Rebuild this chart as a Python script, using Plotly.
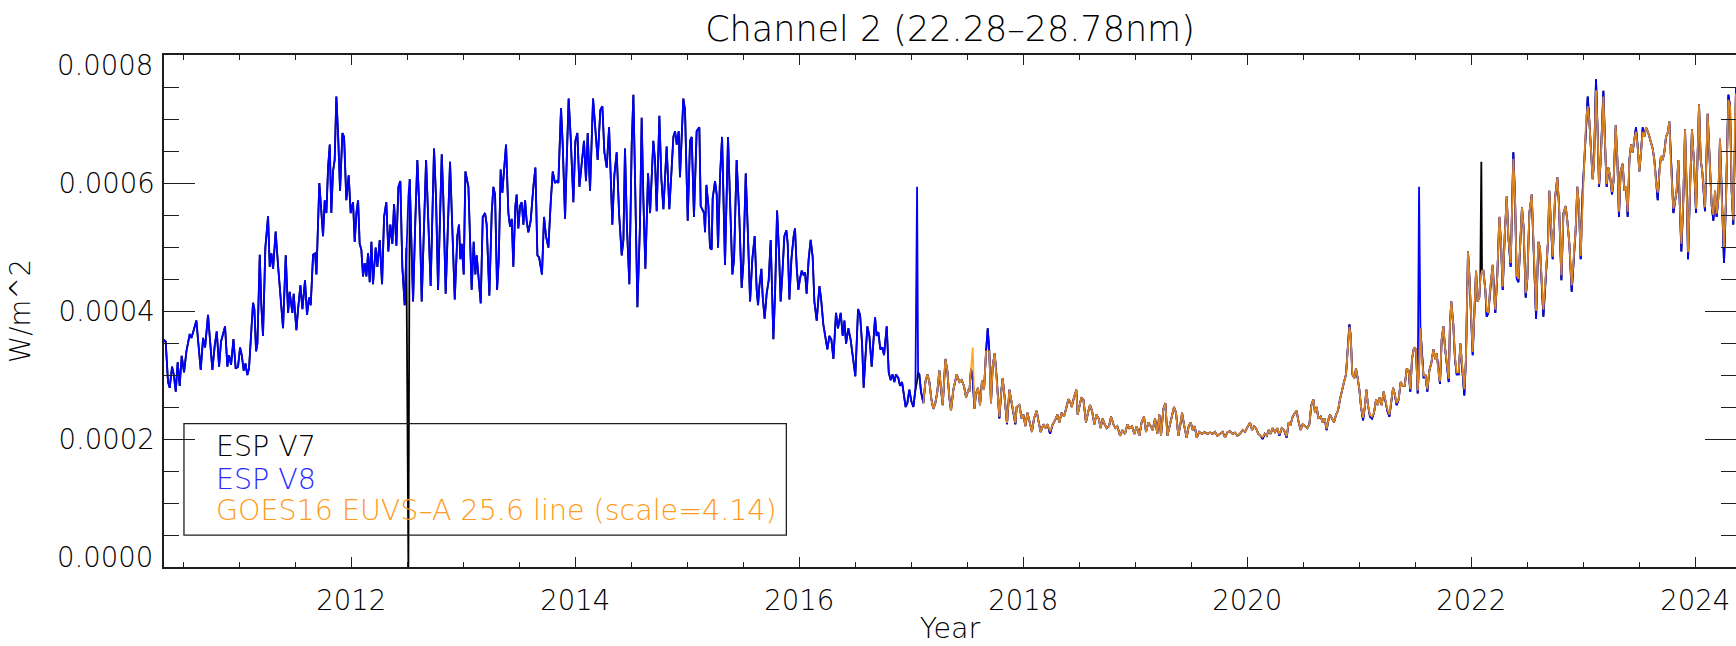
import plotly.graph_objects as go

# Irradiance values below are stored in units of 1e-4 W/m^2
UNIT = 1e-4

# Decimal-year sample times shared by the ESP series (GOES starts part-way through)
year = [
    2010.327, 2010.342, 2010.363, 2010.378, 2010.399, 2010.414, 2010.432, 2010.449, 2010.467, 2010.485,
    2010.506, 2010.527, 2010.557, 2010.572, 2010.592, 2010.616, 2010.637, 2010.655, 2010.676, 2010.694,
    2010.720, 2010.741, 2010.759, 2010.780, 2010.798, 2010.819, 2010.836, 2010.872, 2010.893, 2010.908,
    2010.926, 2010.947, 2010.967, 2010.988, 2011.006, 2011.021, 2011.039, 2011.054, 2011.071, 2011.086,
    2011.122, 2011.134, 2011.149, 2011.161, 2011.182, 2011.196, 2011.211, 2011.232, 2011.256, 2011.271,
    2011.286, 2011.301, 2011.324, 2011.345, 2011.366, 2011.390, 2011.414, 2011.435, 2011.449, 2011.473,
    2011.485, 2011.509, 2011.524, 2011.545, 2011.563, 2011.586, 2011.604, 2011.622, 2011.637, 2011.658,
    2011.676, 2011.688, 2011.714, 2011.729, 2011.747, 2011.762, 2011.777, 2011.792, 2011.807, 2011.821,
    2011.836, 2011.851, 2011.866, 2011.881, 2011.899, 2011.920, 2011.935, 2011.955, 2011.976, 2011.994,
    2012.015, 2012.030, 2012.045, 2012.060, 2012.074, 2012.089, 2012.104, 2012.119, 2012.134, 2012.149,
    2012.164, 2012.179, 2012.193, 2012.217, 2012.232, 2012.253, 2012.274, 2012.292, 2012.312, 2012.330,
    2012.348, 2012.366, 2012.381, 2012.402, 2012.420, 2012.437, 2012.455, 2012.476, 2012.491, 2012.509,
    2012.521, 2012.536, 2012.551, 2012.571, 2012.589, 2012.610,
    2012.628, 2012.667, 2012.688, 2012.708, 2012.738, 2012.756, 2012.774, 2012.807, 2012.821, 2012.842,
    2012.881, 2012.899, 2012.923, 2012.946, 2012.961, 2012.973, 2012.985, 2013.003, 2013.018, 2013.045,
    2013.060, 2013.074, 2013.092, 2013.107, 2013.119, 2013.137, 2013.155, 2013.173, 2013.194, 2013.208,
    2013.232, 2013.253, 2013.268, 2013.283, 2013.301, 2013.316, 2013.333, 2013.348, 2013.363, 2013.381,
    2013.402, 2013.417, 2013.432, 2013.446, 2013.464, 2013.476, 2013.491, 2013.506, 2013.521, 2013.536,
    2013.551, 2013.565, 2013.580, 2013.601, 2013.625, 2013.643, 2013.661, 2013.676, 2013.702, 2013.720,
    2013.738, 2013.759, 2013.780, 2013.798, 2013.818, 2013.833, 2013.848, 2013.872, 2013.887, 2013.908,
    2013.923, 2013.940, 2013.958, 2013.982, 2014.000, 2014.018, 2014.036, 2014.057, 2014.077, 2014.095,
    2014.110, 2014.131, 2014.158, 2014.176, 2014.199, 2014.223, 2014.241, 2014.259, 2014.280, 2014.301,
    2014.330, 2014.348, 2014.369, 2014.390, 2014.414, 2014.429, 2014.443, 2014.461, 2014.482, 2014.503,
    2014.518, 2014.533, 2014.554, 2014.577, 2014.592, 2014.607, 2014.625, 2014.649, 2014.667, 2014.696,
    2014.711, 2014.726, 2014.750, 2014.768, 2014.786, 2014.815, 2014.839, 2014.860, 2014.875, 2014.890,
    2014.905, 2014.923, 2014.934, 2014.964, 2014.979, 2015.003, 2015.024, 2015.039, 2015.059, 2015.083,
    2015.107,
    2015.119, 2015.137, 2015.149, 2015.158, 2015.170, 2015.188, 2015.202, 2015.217, 2015.226, 2015.247,
    2015.262, 2015.274, 2015.292, 2015.310, 2015.321, 2015.336, 2015.363, 2015.381, 2015.402, 2015.417,
    2015.440, 2015.464, 2015.485, 2015.500, 2015.521, 2015.539, 2015.560, 2015.580, 2015.601, 2015.619,
    2015.631, 2015.643, 2015.661, 2015.673, 2015.690, 2015.708, 2015.726, 2015.744, 2015.768, 2015.783,
    2015.801, 2015.818, 2015.833, 2015.848, 2015.866, 2015.884, 2015.896, 2015.911, 2015.929, 2015.949,
    2015.961, 2015.976, 2015.991, 2016.006, 2016.021, 2016.036, 2016.051, 2016.065, 2016.083, 2016.101,
    2016.119, 2016.134, 2016.155, 2016.179, 2016.193, 2016.214, 2016.232, 2016.250, 2016.268, 2016.286,
    2016.304, 2016.327, 2016.345, 2016.369, 2016.387, 2016.402, 2016.417, 2016.437, 2016.458, 2016.482,
    2016.500, 2016.524, 2016.542, 2016.560, 2016.574, 2016.589, 2016.607, 2016.625, 2016.646, 2016.676,
    2016.690, 2016.705, 2016.723, 2016.741, 2016.756, 2016.780, 2016.798, 2016.815, 2016.833, 2016.848,
    2016.863, 2016.884, 2016.899, 2016.917, 2016.932, 2016.949, 2016.964, 2016.982, 2017.000, 2017.018,
    2017.036, 2017.051, 2017.060, 2017.071, 2017.086, 2017.107, 2017.125, 2017.143, 2017.161, 2017.179,
    2017.196, 2017.214, 2017.232, 2017.250, 2017.262, 2017.280, 2017.304, 2017.321, 2017.339, 2017.354,
    2017.375, 2017.390, 2017.405, 2017.429, 2017.449, 2017.470, 2017.488, 2017.509,
    2017.518, 2017.533, 2017.548, 2017.563, 2017.577, 2017.595, 2017.613, 2017.631, 2017.649, 2017.667,
    2017.682, 2017.696, 2017.711, 2017.726, 2017.744, 2017.762, 2017.786, 2017.801, 2017.815, 2017.833,
    2017.854, 2017.875, 2017.893, 2017.911, 2017.929, 2017.940, 2017.964, 2017.985, 2018.000, 2018.018,
    2018.036, 2018.057, 2018.077, 2018.095, 2018.119, 2018.137, 2018.155, 2018.179, 2018.199, 2018.217,
    2018.238, 2018.262, 2018.283, 2018.304, 2018.321, 2018.342, 2018.363, 2018.381, 2018.402, 2018.417,
    2018.432, 2018.452, 2018.473, 2018.485, 2018.500, 2018.518, 2018.536, 2018.559, 2018.577, 2018.595,
    2018.613, 2018.634, 2018.652, 2018.673, 2018.690, 2018.708, 2018.726, 2018.744, 2018.765, 2018.783,
    2018.804, 2018.821, 2018.839, 2018.863, 2018.884, 2018.908, 2018.929, 2018.946, 2018.970, 2018.991,
    2019.012, 2019.036, 2019.056, 2019.077, 2019.095, 2019.116, 2019.137, 2019.155, 2019.176, 2019.196,
    2019.214, 2019.229, 2019.250, 2019.268, 2019.286, 2019.304, 2019.324, 2019.345, 2019.363, 2019.384,
    2019.402, 2019.417, 2019.434, 2019.458, 2019.476, 2019.494, 2019.512, 2019.530, 2019.548, 2019.571,
    2019.595, 2019.619, 2019.643, 2019.667, 2019.690, 2019.711, 2019.732, 2019.756, 2019.780, 2019.801,
    2019.824, 2019.845, 2019.869, 2019.890, 2019.911, 2019.934,
    2019.958, 2019.979, 2020.000, 2020.024, 2020.042, 2020.060, 2020.077, 2020.098, 2020.119, 2020.137,
    2020.155, 2020.173, 2020.190, 2020.208, 2020.226, 2020.247, 2020.268, 2020.286, 2020.307, 2020.327,
    2020.351, 2020.369, 2020.387, 2020.405, 2020.426, 2020.440, 2020.458, 2020.476, 2020.494, 2020.515,
    2020.536, 2020.554, 2020.571, 2020.589, 2020.604, 2020.619, 2020.634, 2020.655, 2020.673, 2020.690,
    2020.708, 2020.726, 2020.738, 2020.756, 2020.774, 2020.792, 2020.809, 2020.827, 2020.845, 2020.863,
    2020.881, 2020.896, 2020.911, 2020.923, 2020.937, 2020.955, 2020.970, 2020.985, 2021.000, 2021.015,
    2021.033, 2021.051, 2021.062, 2021.077, 2021.095, 2021.113, 2021.131, 2021.149, 2021.164, 2021.181,
    2021.199, 2021.217, 2021.232, 2021.250, 2021.268, 2021.286, 2021.301, 2021.315, 2021.333, 2021.351,
    2021.369, 2021.387, 2021.405, 2021.423, 2021.440, 2021.455, 2021.470, 2021.488, 2021.506, 2021.521,
    2021.533, 2021.545, 2021.559, 2021.574, 2021.589, 2021.607, 2021.625, 2021.643, 2021.661, 2021.678,
    2021.690, 2021.708, 2021.720, 2021.735, 2021.750, 2021.765, 2021.780, 2021.798, 2021.809, 2021.821,
    2021.839, 2021.854, 2021.869, 2021.887, 2021.902, 2021.920, 2021.937, 2021.952, 2021.970, 2021.982,
    2021.997, 2022.012, 2022.027, 2022.042, 2022.056, 2022.071, 2022.080, 2022.089, 2022.095, 2022.107,
    2022.125, 2022.137, 2022.152, 2022.167, 2022.182, 2022.191, 2022.202, 2022.214, 2022.232, 2022.250,
    2022.265, 2022.280, 2022.298, 2022.316, 2022.330, 2022.351, 2022.375, 2022.390, 2022.405, 2022.420,
    2022.435, 2022.452, 2022.467, 2022.485, 2022.500, 2022.518, 2022.539, 2022.554, 2022.578, 2022.598,
    2022.613, 2022.643, 2022.667, 2022.685, 2022.696, 2022.711, 2022.726, 2022.747, 2022.768, 2022.783,
    2022.804, 2022.822, 2022.842, 2022.857, 2022.875, 2022.896, 2022.914, 2022.932, 2022.946, 2022.961,
    2022.976, 2022.994, 2023.009, 2023.024, 2023.039, 2023.054, 2023.068, 2023.083, 2023.095, 2023.113,
    2023.128, 2023.140, 2023.155, 2023.179, 2023.194, 2023.208, 2023.223, 2023.238, 2023.256, 2023.271,
    2023.289, 2023.304, 2023.318, 2023.333, 2023.351, 2023.366, 2023.381, 2023.396, 2023.411, 2023.426,
    2023.440, 2023.455, 2023.470, 2023.485, 2023.500, 2023.515, 2023.530, 2023.545, 2023.560, 2023.580,
    2023.601, 2023.619, 2023.634, 2023.649, 2023.664, 2023.679, 2023.693, 2023.708, 2023.723, 2023.738,
    2023.753, 2023.768, 2023.783, 2023.804, 2023.818, 2023.833, 2023.848, 2023.863, 2023.875, 2023.893,
    2023.908, 2023.923, 2023.935, 2023.952, 2023.970, 2023.988, 2024.006, 2024.033, 2024.048, 2024.062,
    2024.086, 2024.110, 2024.131, 2024.146, 2024.161, 2024.176, 2024.190, 2024.205, 2024.220, 2024.235,
    2024.256, 2024.274, 2024.295, 2024.310, 2024.324, 2024.339, 2024.354, 2024.363,
]

# ESP version 8 channel 2 irradiance (1e-4 W/m^2)
esp_v8 = [
    3.55, 3.52, 2.89, 2.80, 3.13, 3.01, 2.74, 3.20, 2.83, 3.30,
    3.04, 3.37, 3.64, 3.58, 3.70, 3.85, 3.43, 3.08, 3.58, 3.43,
    3.94, 3.52, 3.08, 3.46, 3.68, 3.13, 3.52, 3.76, 3.13, 3.31,
    3.16, 3.56, 3.10, 3.13, 3.43, 3.31, 3.07, 3.18, 3.00, 3.10,
    4.13, 4.03, 3.37, 3.49, 4.88, 4.09, 3.61, 4.99, 5.48, 4.69,
    4.90, 4.66, 5.24, 4.72, 4.27, 3.73, 4.87, 3.97, 4.30, 3.97,
    4.27, 3.70, 4.03, 4.40, 4.03, 4.48, 3.94, 4.21, 4.09, 4.88,
    4.90, 4.57, 6.00, 5.59, 5.17, 5.73, 5.53, 6.24, 6.60, 5.53,
    6.18, 6.36, 7.35, 6.78, 5.88, 6.78, 6.72, 5.73, 6.12, 5.53,
    5.70, 5.08, 5.53, 5.73, 5.05, 4.96, 4.54, 4.75, 4.54, 4.90,
    4.45, 5.08, 4.42, 4.99, 4.69, 5.11, 4.42, 5.47, 5.70, 4.93,
    5.35, 5.05, 5.67, 5.02, 5.94, 6.03, 4.69, 4.09, 4.99, 5.79,
    6.06, 5.05, 4.15, 5.41, 6.36, 5.47,
    4.15, 6.36, 5.41, 4.39, 6.54, 5.76, 4.33, 6.45, 5.76, 4.27,
    6.33, 5.53, 4.18, 5.17, 5.35, 4.81, 5.05, 4.57, 6.18, 5.94,
    4.93, 4.33, 5.08, 4.57, 4.87, 4.51, 4.12, 5.47, 5.53, 5.35,
    4.24, 5.53, 5.94, 5.82, 4.33, 4.81, 6.21, 5.85, 6.24, 6.60,
    5.53, 5.32, 5.44, 4.69, 5.64, 5.82, 5.29, 5.64, 5.70, 5.35,
    5.73, 5.41, 5.23, 5.41, 5.94, 6.24, 4.87, 4.84, 4.57, 5.47,
    5.17, 4.99, 5.70, 6.18, 6.00, 6.03, 6.00, 7.17, 6.60, 5.44,
    6.36, 7.32, 6.72, 5.70, 6.66, 6.78, 5.94, 6.30, 6.66, 6.03,
    6.78, 5.88, 7.32, 6.90, 6.36, 7.14, 7.20, 6.48, 6.24, 6.87,
    5.35, 6.12, 6.48, 5.53, 4.87, 5.11, 6.54, 5.29, 4.42, 6.60,
    7.38, 6.06, 4.06, 5.35, 7.02, 5.76, 4.66, 6.15, 5.53, 6.66,
    6.36, 5.56, 7.05, 6.06, 5.59, 6.57, 5.59, 6.24, 6.72, 6.81,
    6.60, 6.81, 6.09, 7.32, 7.14, 5.41, 6.66, 6.72, 5.47, 6.81,
    6.87,
    5.64, 5.56, 5.53, 5.23, 5.97, 5.64, 4.99, 4.96, 5.76, 6.03,
    5.82, 4.99, 6.12, 6.72, 5.64, 4.72, 6.72, 5.64, 4.57, 4.81,
    6.36, 5.47, 4.36, 4.75, 6.15, 5.29, 4.15, 4.81, 5.17, 4.33,
    4.09, 4.39, 4.66, 4.21, 3.88, 4.27, 4.48, 5.11, 3.56, 4.27,
    5.57, 4.93, 4.15, 4.57, 5.17, 5.26, 5.05, 4.18, 4.81, 5.17,
    5.29, 4.69, 4.33, 4.51, 4.63, 4.57, 4.60, 4.27, 4.81, 5.11,
    4.84, 4.15, 3.85, 4.39, 4.21, 3.79, 3.55, 3.40, 3.61, 3.55,
    3.25, 3.97, 3.73, 3.97, 3.61, 3.85, 3.49, 3.73, 3.55, 3.25,
    2.98, 4.03, 3.94, 3.49, 2.80, 3.25, 3.76, 3.61, 3.13, 3.90,
    3.61, 3.67, 3.40, 3.43, 3.31, 3.76, 3.04, 2.92, 3.01, 2.89,
    3.01, 2.95, 2.83, 2.89, 2.68, 2.50, 2.56, 2.77, 2.59, 2.50,
    2.77, 5.94, 3.04, 3.01, 2.74, 2.56, 2.89, 3.01, 2.89, 2.62,
    2.47, 2.56, 2.74, 3.07, 2.83, 2.53, 3.25, 3.07, 2.65, 2.44,
    2.77, 2.89, 3.01, 2.89, 2.92, 2.83, 2.65, 2.77,
    2.74, 3.10, 2.95, 2.47, 2.71, 2.80, 2.53, 2.92, 2.77, 3.37,
    3.73, 3.37, 2.56, 3.13, 3.34, 2.95, 2.32, 2.71, 2.95, 2.65,
    2.23, 2.77, 2.59, 2.41, 2.23, 2.50, 2.53, 2.32, 2.38, 2.20,
    2.41, 2.26, 2.11, 2.32, 2.44, 2.26, 2.11, 2.23, 2.17, 2.23,
    2.08, 2.23, 2.29, 2.38, 2.26, 2.41, 2.35, 2.47, 2.62, 2.59,
    2.50, 2.65, 2.77, 2.38, 2.53, 2.65, 2.62, 2.26, 2.41, 2.53,
    2.44, 2.23, 2.38, 2.32, 2.17, 2.32, 2.23, 2.17, 2.20, 2.35,
    2.23, 2.17, 2.20, 2.05, 2.14, 2.08, 2.23, 2.17, 2.20, 2.08,
    2.20, 2.05, 2.26, 2.35, 2.11, 2.26, 2.20, 2.14, 2.32, 2.08,
    2.38, 2.05, 2.47, 2.56, 2.05, 2.20, 2.32, 2.50, 2.41, 2.05,
    2.23, 2.41, 2.23, 2.02, 2.20, 2.26, 2.14, 2.20, 2.02, 2.11,
    2.08, 2.11, 2.08, 2.10, 2.08, 2.11, 2.05, 2.08, 2.11, 2.02,
    2.11, 2.12, 2.08, 2.10, 2.05, 2.08,
    2.14, 2.11, 2.17, 2.26, 2.14, 2.20, 2.17, 2.08, 2.05, 2.00,
    2.08, 2.05, 2.14, 2.08, 2.17, 2.11, 2.17, 2.05, 2.17, 2.14,
    2.02, 2.26, 2.23, 2.35, 2.41, 2.44, 2.26, 2.14, 2.23, 2.20,
    2.17, 2.23, 2.53, 2.62, 2.41, 2.50, 2.32, 2.35, 2.26, 2.32,
    2.14, 2.32, 2.38, 2.32, 2.26, 2.38, 2.44, 2.62, 2.77, 2.89,
    3.01, 3.43, 3.79, 3.61, 3.01, 2.95, 3.10, 2.95, 2.77, 2.50,
    2.29, 2.53, 2.77, 2.53, 2.35, 2.32, 2.41, 2.62, 2.53, 2.65,
    2.53, 2.74, 2.59, 2.44, 2.35, 2.62, 2.80, 2.71, 2.53, 2.62,
    2.89, 2.83, 2.83, 3.10, 3.07, 2.74, 3.25, 3.43, 3.40, 2.71,
    5.94, 3.73, 3.25, 2.95, 3.01, 2.74, 3.07, 3.19, 3.40, 3.25,
    3.34, 3.01, 2.86, 3.55, 3.76, 3.43, 3.22, 2.89, 3.79, 4.15,
    3.79, 3.25, 3.01, 3.01, 3.49, 3.04, 2.68, 3.25, 4.93, 4.57,
    3.97, 3.31, 3.97, 4.63, 4.15, 4.21, 4.51, 4.57, 4.63, 4.63,
    4.33, 3.91, 3.97, 4.33, 4.57, 4.72, 4.27, 3.97, 4.57, 5.47,
    5.05, 4.33, 5.17, 5.79, 5.17, 4.69, 6.48, 5.76, 4.51, 4.45,
    4.99, 5.62, 5.29, 4.21, 4.51, 5.53, 5.82, 5.05, 3.88, 5.08,
    4.99, 3.91, 4.69, 5.11, 5.88, 5.29, 4.81, 5.76, 6.09, 5.64,
    4.48, 5.53, 5.64, 5.41, 5.05, 4.30, 4.81, 5.29, 5.94, 5.64,
    4.81, 5.88, 6.36, 6.96, 7.35, 6.96, 6.60, 6.06, 6.30, 7.62,
    6.78, 5.94, 6.36, 7.44, 6.60, 5.94, 6.24, 6.12, 5.82, 6.06,
    6.90, 6.36, 5.47, 6.18, 6.30, 5.88, 5.94, 5.47, 6.36, 6.60,
    6.48, 6.69, 6.87, 6.57, 6.18, 6.48, 6.87, 6.72, 6.87, 6.78,
    6.66, 6.54, 6.36, 6.00, 5.73, 6.18, 6.42, 6.36, 6.48, 6.72,
    6.78, 6.96, 6.24, 5.53, 5.70, 5.88, 6.36, 5.53, 4.93, 5.76,
    6.84, 5.88, 4.81, 5.88, 6.84, 6.30, 5.53, 7.23, 6.36, 6.18,
    5.56, 7.08, 6.12, 5.64, 5.41, 5.88, 5.47, 5.76, 6.69, 5.76,
    4.75, 5.76, 7.38, 7.20, 5.88, 5.35, 6.96, 7.50,
]

# ESP version 7 channel 2 irradiance (1e-4 W/m^2); includes a zero dropout in mid-2012
esp_v7 = [
    3.55, 3.52, 2.89, 2.80, 3.13, 3.01, 2.74, 3.20, 2.83, 3.30,
    3.04, 3.37, 3.64, 3.58, 3.70, 3.85, 3.43, 3.08, 3.58, 3.43,
    3.94, 3.52, 3.08, 3.46, 3.68, 3.13, 3.52, 3.76, 3.13, 3.31,
    3.16, 3.56, 3.10, 3.13, 3.43, 3.31, 3.07, 3.18, 3.00, 3.10,
    4.13, 4.03, 3.37, 3.49, 4.88, 4.09, 3.61, 4.99, 5.48, 4.69,
    4.90, 4.66, 5.24, 4.72, 4.27, 3.73, 4.87, 3.97, 4.30, 3.97,
    4.27, 3.70, 4.03, 4.40, 4.03, 4.48, 3.94, 4.21, 4.09, 4.88,
    4.90, 4.57, 6.00, 5.59, 5.17, 5.73, 5.53, 6.24, 6.60, 5.53,
    6.18, 6.36, 7.35, 6.78, 5.88, 6.78, 6.72, 5.73, 6.12, 5.53,
    5.70, 5.08, 5.53, 5.73, 5.05, 4.96, 4.54, 4.75, 4.54, 4.90,
    4.45, 5.08, 4.42, 4.99, 4.69, 5.11, 4.42, 5.47, 5.70, 4.93,
    5.35, 5.05, 5.67, 5.02, 5.94, 6.03, 4.69, 4.09, 4.99, 0.00,
    6.06, 5.05, 4.15, 5.41, 6.36, 5.47,
    4.15, 6.36, 5.41, 4.39, 6.54, 5.76, 4.33, 6.45, 5.76, 4.27,
    6.33, 5.53, 4.18, 5.17, 5.35, 4.81, 5.05, 4.57, 6.18, 5.94,
    4.93, 4.33, 5.08, 4.57, 4.87, 4.51, 4.12, 5.47, 5.53, 5.35,
    4.24, 5.53, 5.94, 5.82, 4.33, 4.81, 6.21, 5.85, 6.24, 6.60,
    5.53, 5.32, 5.44, 4.69, 5.64, 5.82, 5.29, 5.64, 5.70, 5.35,
    5.73, 5.41, 5.23, 5.41, 5.94, 6.24, 4.87, 4.84, 4.57, 5.47,
    5.17, 4.99, 5.70, 6.18, 6.00, 6.03, 6.00, 7.17, 6.60, 5.44,
    6.36, 7.32, 6.72, 5.70, 6.66, 6.78, 5.94, 6.30, 6.66, 6.03,
    6.78, 5.88, 7.32, 6.90, 6.36, 7.14, 7.20, 6.48, 6.24, 6.87,
    5.35, 6.12, 6.48, 5.53, 4.87, 5.11, 6.54, 5.29, 4.42, 6.60,
    7.38, 6.06, 4.06, 5.35, 7.02, 5.76, 4.66, 6.15, 5.53, 6.66,
    6.36, 5.56, 7.05, 6.06, 5.59, 6.57, 5.59, 6.24, 6.72, 6.81,
    6.60, 6.81, 6.09, 7.32, 7.14, 5.41, 6.66, 6.72, 5.47, 6.81,
    6.87,
    5.64, 5.56, 5.53, 5.23, 5.97, 5.64, 4.99, 4.96, 5.76, 6.03,
    5.82, 4.99, 6.12, 6.72, 5.64, 4.72, 6.72, 5.64, 4.57, 4.81,
    6.36, 5.47, 4.36, 4.75, 6.15, 5.29, 4.15, 4.81, 5.17, 4.33,
    4.09, 4.39, 4.66, 4.21, 3.88, 4.27, 4.48, 5.11, 3.56, 4.27,
    5.57, 4.93, 4.15, 4.57, 5.17, 5.26, 5.05, 4.18, 4.81, 5.17,
    5.29, 4.69, 4.33, 4.51, 4.63, 4.57, 4.60, 4.27, 4.81, 5.11,
    4.84, 4.15, 3.85, 4.39, 4.21, 3.79, 3.55, 3.40, 3.61, 3.55,
    3.25, 3.97, 3.73, 3.97, 3.61, 3.85, 3.49, 3.73, 3.55, 3.25,
    2.98, 4.03, 3.94, 3.49, 2.80, 3.25, 3.76, 3.61, 3.13, 3.90,
    3.61, 3.67, 3.40, 3.43, 3.31, 3.76, 3.04, 2.92, 3.01, 2.89,
    3.01, 2.95, 2.83, 2.89, 2.68, 2.50, 2.56, 2.77, 2.59, 2.50,
    2.77, 2.90, 3.04, 3.01, 2.74, 2.56, 2.89, 3.01, 2.89, 2.62,
    2.47, 2.56, 2.74, 3.07, 2.83, 2.53, 3.25, 3.07, 2.65, 2.44,
    2.77, 2.89, 3.01, 2.89, 2.92, 2.83, 2.65, 2.77,
    2.74, 3.10, 2.95, 2.47, 2.71, 2.80, 2.53, 2.92, 2.77, 3.37,
    3.73, 3.37, 2.56, 3.13, 3.34, 2.95, 2.32, 2.71, 2.95, 2.65,
    2.23, 2.77, 2.59, 2.41, 2.23, 2.50, 2.53, 2.32, 2.38, 2.20,
    2.41, 2.26, 2.11, 2.32, 2.44, 2.26, 2.11, 2.23, 2.17, 2.23,
    2.08, 2.23, 2.29, 2.38, 2.26, 2.41, 2.35, 2.47, 2.62, 2.59,
    2.50, 2.65, 2.77, 2.38, 2.53, 2.65, 2.62, 2.26, 2.41, 2.53,
    2.44, 2.23, 2.38, 2.32, 2.17, 2.32, 2.23, 2.17, 2.20, 2.35,
    2.23, 2.17, 2.20, 2.05, 2.14, 2.08, 2.23, 2.17, 2.20, 2.08,
    2.20, 2.05, 2.26, 2.35, 2.11, 2.26, 2.20, 2.14, 2.32, 2.08,
    2.38, 2.05, 2.47, 2.56, 2.05, 2.20, 2.32, 2.50, 2.41, 2.05,
    2.23, 2.41, 2.23, 2.02, 2.20, 2.26, 2.14, 2.20, 2.02, 2.11,
    2.08, 2.11, 2.08, 2.10, 2.08, 2.11, 2.05, 2.08, 2.11, 2.02,
    2.11, 2.12, 2.08, 2.10, 2.05, 2.08,
    2.14, 2.11, 2.17, 2.26, 2.14, 2.20, 2.17, 2.08, 2.05, 2.00,
    2.08, 2.05, 2.14, 2.08, 2.17, 2.11, 2.17, 2.05, 2.17, 2.14,
    2.02, 2.26, 2.23, 2.35, 2.41, 2.44, 2.26, 2.14, 2.23, 2.20,
    2.17, 2.23, 2.53, 2.62, 2.41, 2.50, 2.32, 2.35, 2.26, 2.32,
    2.14, 2.32, 2.38, 2.32, 2.26, 2.38, 2.44, 2.62, 2.77, 2.89,
    3.01, 3.43, 3.79, 3.61, 3.01, 2.95, 3.10, 2.95, 2.77, 2.50,
    2.29, 2.53, 2.77, 2.53, 2.35, 2.32, 2.41, 2.62, 2.53, 2.65,
    2.53, 2.74, 2.59, 2.44, 2.35, 2.62, 2.80, 2.71, 2.53, 2.62,
    2.89, 2.83, 2.83, 3.10, 3.07, 2.74, 3.25, 3.43, 3.40, 2.71,
    3.10, 3.73, 3.25, 2.95, 3.01, 2.74, 3.07, 3.19, 3.40, 3.25,
    3.34, 3.01, 2.86, 3.55, 3.76, 3.43, 3.22, 2.89, 3.79, 4.15,
    3.79, 3.25, 3.01, 3.01, 3.49, 3.04, 2.68, 3.25, 4.93, 4.57,
    3.97, 3.31, 3.97, 4.63, 4.15, 4.21, 4.51, 6.33, 4.63, 4.63,
    4.33, 3.91, 3.97, 4.33, 4.57, 4.72, 4.27, 3.97, 4.57, 5.47,
    5.05, 4.33, 5.17, 5.79, 5.17, 4.69, 6.48, 5.76, 4.51, 4.45,
    4.99, 5.62, 5.29, 4.21, 4.51, 5.53, 5.82, 5.05, 3.88, 5.08,
    4.99, 3.91, 4.69, 5.11, 5.88, 5.29, 4.81, 5.76, 6.09, 5.64,
    4.48, 5.53, 5.64, 5.41, 5.05, 4.30, 4.81, 5.29, 5.94, 5.64,
    4.81, 5.88, 6.36, 6.96, 7.35, 6.96, 6.60, 6.06, 6.30, 7.62,
    6.78, 5.94, 6.36, 7.44, 6.60, 5.94, 6.24, 6.12, 5.82, 6.06,
    6.90, 6.36, 5.47, 6.18, 6.30, 5.88, 5.94, 5.47, 6.36, 6.60,
    6.48, 6.69, 6.87, 6.57, 6.18, 6.48, 6.87, 6.72, 6.87, 6.78,
    6.66, 6.54, 6.36, 6.00, 5.73, 6.18, 6.42, 6.36, 6.48, 6.72,
    6.78, 6.96, 6.24, 5.53, 5.70, 5.88, 6.36, 5.53, 4.93, 5.76,
    6.84, 5.88, 4.81, 5.88, 6.84, 6.30, 5.53, 7.23, 6.36, 6.18,
    5.56, 7.08, 6.12, 5.64, 5.41, 5.88, 5.47, 5.76, 6.69, 5.76,
    4.75, 5.76, 7.38, 7.20, 5.88, 5.35, 6.96, 7.50,
]

# GOES-16 EUVS-A 25.6 nm line scaled by 4.14 (1e-4 W/m^2), from its first sample onward
GOES_FIRST_YEAR = 2017.107
goes16 = [
    2.56, 2.89, 3.01, 2.89, 2.62,
    2.47, 2.56, 2.74, 3.07, 2.83, 2.53, 3.25, 3.07, 2.65, 2.44,
    2.77, 2.89, 3.01, 2.89, 2.92, 2.83, 2.65, 2.77,
    2.74, 3.10, 3.43, 2.47, 2.71, 2.80, 2.53, 2.92, 2.77, 3.37,
    3.37, 3.37, 2.56, 3.13, 3.34, 2.95, 2.35, 2.71, 2.95, 2.65,
    2.25, 2.77, 2.59, 2.41, 2.25, 2.50, 2.53, 2.32, 2.38, 2.20,
    2.41, 2.26, 2.11, 2.32, 2.44, 2.26, 2.11, 2.23, 2.17, 2.23,
    2.12, 2.23, 2.29, 2.38, 2.26, 2.41, 2.35, 2.47, 2.62, 2.59,
    2.50, 2.65, 2.77, 2.38, 2.53, 2.65, 2.62, 2.26, 2.41, 2.53,
    2.44, 2.23, 2.38, 2.32, 2.17, 2.32, 2.23, 2.17, 2.20, 2.35,
    2.23, 2.17, 2.20, 2.05, 2.14, 2.08, 2.23, 2.17, 2.20, 2.08,
    2.20, 2.05, 2.26, 2.35, 2.11, 2.26, 2.20, 2.14, 2.32, 2.08,
    2.38, 2.05, 2.47, 2.56, 2.05, 2.20, 2.32, 2.50, 2.41, 2.05,
    2.23, 2.41, 2.23, 2.02, 2.20, 2.26, 2.14, 2.20, 2.02, 2.11,
    2.08, 2.11, 2.08, 2.10, 2.08, 2.11, 2.05, 2.08, 2.11, 2.02,
    2.11, 2.12, 2.08, 2.10, 2.05, 2.08,
    2.14, 2.11, 2.17, 2.26, 2.14, 2.20, 2.17, 2.08, 2.05, 2.03,
    2.08, 2.05, 2.14, 2.08, 2.17, 2.11, 2.17, 2.07, 2.17, 2.14,
    2.04, 2.26, 2.23, 2.35, 2.41, 2.44, 2.26, 2.14, 2.23, 2.20,
    2.17, 2.23, 2.53, 2.62, 2.41, 2.50, 2.32, 2.35, 2.26, 2.32,
    2.16, 2.32, 2.38, 2.32, 2.26, 2.38, 2.44, 2.62, 2.77, 2.89,
    3.01, 3.43, 3.75, 3.61, 3.01, 2.95, 3.10, 2.95, 2.77, 2.50,
    2.33, 2.53, 2.77, 2.53, 2.38, 2.35, 2.41, 2.62, 2.53, 2.65,
    2.53, 2.74, 2.59, 2.47, 2.38, 2.62, 2.80, 2.71, 2.56, 2.62,
    2.89, 2.83, 2.83, 3.10, 3.07, 2.78, 3.25, 3.43, 3.40, 2.76,
    3.10, 3.73, 3.25, 2.98, 3.01, 2.78, 3.07, 3.19, 3.40, 3.25,
    3.34, 3.01, 2.90, 3.55, 3.76, 3.43, 3.22, 2.94, 3.79, 4.15,
    3.79, 3.28, 3.04, 3.04, 3.49, 3.06, 2.78, 3.25, 4.93, 4.57,
    3.97, 3.36, 3.97, 4.63, 4.15, 4.21, 4.51, 4.57, 4.63, 4.63,
    4.33, 4.00, 3.97, 4.33, 4.57, 4.72, 4.27, 4.02, 4.57, 5.47,
    5.05, 4.38, 5.17, 5.79, 5.17, 4.75, 6.38, 5.76, 4.56, 4.50,
    4.99, 5.62, 5.29, 4.28, 4.51, 5.53, 5.82, 5.05, 4.00, 5.08,
    4.99, 4.02, 4.69, 5.11, 5.88, 5.29, 4.85, 5.76, 6.09, 5.64,
    4.56, 5.53, 5.64, 5.41, 5.05, 4.40, 4.81, 5.29, 5.94, 5.64,
    4.86, 5.88, 6.36, 6.96, 7.20, 6.96, 6.60, 6.06, 6.30, 7.45,
    6.78, 5.98, 6.36, 7.35, 6.60, 5.98, 6.24, 6.12, 5.86, 6.06,
    6.90, 6.36, 5.55, 6.18, 6.30, 5.88, 5.94, 5.55, 6.36, 6.60,
    6.48, 6.69, 6.80, 6.57, 6.18, 6.48, 6.80, 6.72, 6.87, 6.78,
    6.66, 6.54, 6.36, 6.00, 5.85, 6.18, 6.42, 6.36, 6.48, 6.72,
    6.78, 6.96, 6.24, 5.60, 5.70, 5.88, 6.36, 5.60, 5.05, 5.76,
    6.84, 5.88, 4.92, 5.88, 6.84, 6.30, 5.60, 7.23, 6.36, 6.18,
    5.62, 7.08, 6.12, 5.64, 5.50, 5.88, 5.52, 5.76, 6.69, 5.76,
    5.00, 5.76, 7.30, 7.20, 5.88, 5.42, 6.96, 7.40,
]

# Axis ticks and ranges
x_range = [2010.327, 2024.363]
y_range = [0.0, 0.0008]
x_tick_years = [2012, 2014, 2016, 2018, 2020, 2022, 2024]
y_tick_values = [0.0, 0.0002, 0.0004, 0.0006, 0.0008]
y_tick_labels = ["0.0000", "0.0002", "0.0004", "0.0006", "0.0008"]

# Legend entries: text and colour
legend_entries = [
    ("ESP V7", "#000000"),
    ("ESP V8", "#2b2bff"),
    ("GOES16 EUVS\u2013A 25.6 line (scale=4.14)", "#ff9a20"),
]

FONT = "DejaVu Sans"
WEIGHT = 200
INK = "#000000"
V7_COLOR = "#000000"
V8_COLOR = "#0000ff"
GOES_COLOR = "#ff9c00"
TICK_SIZE = 27.5
LABEL_SIZE = 28.5


def text_font(size, color=INK):
    return dict(family=FONT, size=size, color=color, weight=WEIGHT)


goes_index = year.index(GOES_FIRST_YEAR)

fig = go.Figure()
fig.add_trace(go.Scatter(
    x=year, y=[v * UNIT for v in esp_v7], mode="lines", name="ESP V7",
    line=dict(color=V7_COLOR, width=1.8),
))
fig.add_trace(go.Scatter(
    x=year, y=[v * UNIT for v in esp_v8], mode="lines", name="ESP V8",
    line=dict(color=V8_COLOR, width=1.8),
))
fig.add_trace(go.Scatter(
    x=year[goes_index:], y=[v * UNIT for v in goes16], mode="lines",
    name="GOES16 EUVS-A 25.6 line (scale=4.14)",
    line=dict(color=GOES_COLOR, width=1.8), opacity=0.85,
))

axis_common = dict(
    showline=True, linecolor="#1e1e1e", linewidth=1.5, mirror="ticks",
    ticks="inside", tickcolor="#1e1e1e", tickwidth=1.3,
    showgrid=False, zeroline=False, automargin=False,
    tickfont=text_font(TICK_SIZE),
)

# The end labels of the y axis sit just inside the plot frame, so they are
# placed separately from the three interior labels.
y_axis_text = [lbl if 0 < i < len(y_tick_labels) - 1 else "" for i, lbl in enumerate(y_tick_labels)]

fig.update_layout(
    width=1736, height=646,
    margin=dict(l=164, r=0, t=55, b=79),
    paper_bgcolor="white", plot_bgcolor="white",
    showlegend=False,
    font=text_font(TICK_SIZE),
    title=dict(
        text="Channel 2 (22.28\u201328.78nm)",
        x=0.5, xref="paper", xanchor="center",
        y=1 - 28.9 / 646, yref="container", yanchor="middle",
        font=text_font(35),
    ),
    xaxis=dict(
        range=x_range, tickmode="array", tickvals=x_tick_years,
        ticktext=[str(y) for y in x_tick_years], ticklen=10,
        ticklabelstandoff=8,
        minor=dict(tickmode="linear", tick0=2010, dtick=0.5, ticks="inside",
                   ticklen=5, tickcolor="#1e1e1e", tickwidth=1.3, showgrid=False),
        title=dict(text="Year", standoff=3, font=text_font(LABEL_SIZE)),
        **axis_common,
    ),
    yaxis=dict(
        range=y_range, tickmode="array", tickvals=y_tick_values,
        ticktext=y_axis_text, ticklen=31,
        ticklabelstandoff=2,
        minor=dict(tickmode="linear", tick0=0, dtick=0.00005, ticks="inside",
                   ticklen=15, tickcolor="#1e1e1e", tickwidth=1.3, showgrid=False),
        title=dict(text="W/m^2", standoff=20, font=text_font(TICK_SIZE)),
        **axis_common,
    ),
)

for value, label, shift in [(y_tick_values[0], y_tick_labels[0], 10),
                            (y_tick_values[-1], y_tick_labels[-1], -10)]:
    fig.add_annotation(
        text=label, xref="paper", yref="y", x=0, y=value,
        xanchor="right", yanchor="middle", xshift=-9, yshift=shift,
        showarrow=False, font=text_font(TICK_SIZE),
    )

# Legend frame with coloured labels in the lower-left of the plot
fig.add_shape(
    type="rect", xref="paper", yref="paper",
    x0=0.0127, x1=0.3959, y0=0.0621, y1=0.2801,
    line=dict(color="#1e1e1e", width=1.3), fillcolor="rgba(0,0,0,0)", layer="above",
)
for (label, color), ypos in zip(legend_entries, [0.2357, 0.1709, 0.1098]):
    fig.add_annotation(
        text=label, xref="paper", yref="paper", x=0.0318, y=ypos,
        xanchor="left", yanchor="middle", showarrow=False,
        font=text_font(LABEL_SIZE, color),
    )

fig.write_html("out.html")
